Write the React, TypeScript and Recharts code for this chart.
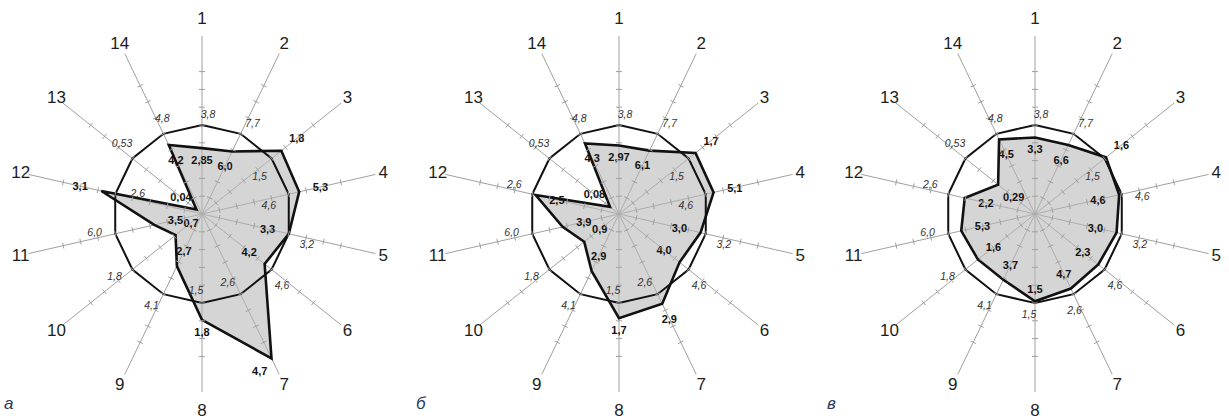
import React from 'react';
import { RadarChart, Radar, PolarGrid, PolarAngleAxis, PolarRadiusAxis } from 'recharts';

// axis numbers, clockwise from the top
const AXES = ['1', '2', '3', '4', '5', '6', '7', '8', '9', '10', '11', '12', '13', '14'];
// norm values (italic), the norm polygon is drawn at level 1
const NORMS = ['3,8', '7,7', '1,5', '4,6', '3,2', '4,6', '2,6', '1,5', '4,1', '1,8', '6,0', '2,6', '0,53', '4,8'];
// tick marks on every spoke, in units of the norm
const TICK_LEVELS = [0.2, 0.4, 0.6, 0.8, 1.0, 1.2, 1.4, 1.6];

// chart а
const VALUES_A = ['2,85', '6,0', '1,8', '5,3', '3,3', '4,2', '4,7', '1,8', '2,7', '0,7', '3,5', '3,1', '0,04', '4,2'];
const LEVELS_A = [0.74, 0.78, 1.14, 1.12, 1.0, 0.9, 1.8, 1.19, 0.65, 0.38, 0.55, 1.16, 0.08, 0.86];
// chart б
const VALUES_B = ['2,97', '6,1', '1,7', '5,1', '3,0', '4,0', '2,9', '1,7', '2,9', '0,9', '3,9', '2,5', '0,08', '4,3'];
const LEVELS_B = [0.77, 0.79, 1.1, 1.09, 0.94, 0.87, 1.12, 1.17, 0.71, 0.5, 0.65, 0.96, 0.13, 0.88];
// chart в
const VALUES_C = ['3,3', '6,6', '1,6', '4,6', '3,0', '2,3', '4,7', '1,5', '3,7', '1,6', '5,3', '2,2', '0,29', '4,5'];
const LEVELS_C = [0.86, 0.86, 1.02, 0.97, 0.94, 0.91, 0.93, 0.98, 0.82, 0.82, 0.85, 0.81, 0.53, 0.93];

const FONT = '"Liberation Sans", Arial, sans-serif';
const RAD = Math.PI / 180;
const START_ANGLE = 90;

// angle of spoke i, same convention as the chart (clockwise from the top)
const spokeAngle = (i: number) => (START_ANGLE - (i * 360) / AXES.length) * RAD;

const buildRows = (levels: number[], values: string[]) =>
  AXES.map((axis, i) => {
    const row: Record<string, number | string> = {
      axis,
      level: levels[i],
      norm: 1,
      shown: values[i],
      normText: NORMS[i],
    };
    TICK_LEVELS.forEach((t, k) => {
      row[`t${k}`] = t;
    });
    return row;
  });

const renderTickMark = (props: any) => {
  const { cx, cy, index, dataKey } = props;
  const a = spokeAngle(index);
  const px = Math.sin(a);
  const py = Math.cos(a);
  const h = 3;
  return (
    <line
      key={`${dataKey}-${index}`}
      x1={cx - px * h}
      y1={cy - py * h}
      x2={cx + px * h}
      y2={cy + py * h}
      stroke="#a0a0a0"
      strokeWidth={1}
    />
  );
};

const renderValueLabel = (props: any) => {
  const { cx, cy, payload, index } = props;
  const a = spokeAngle(index);
  const ux = Math.cos(a);
  const uy = -Math.sin(a);
  const tx = Math.sin(a);
  const ty = Math.cos(a);
  const level = payload.level as number;
  const outside = level > 1 || level < 0.3;
  let off = (outside ? 1 : -1) * (12 + Math.abs(ux) * 10);
  let side = 0;
  // near the end of a spoke: put the number beside the corner
  if (level > 1.6) {
    off = 6;
    side = 16;
  }
  return (
    <text
      key={`val-${index}`}
      x={cx + ux * off + tx * side}
      y={cy + uy * off + ty * side}
      textAnchor="middle"
      dominantBaseline="central"
      fontFamily={FONT}
      fontSize={11}
      fontWeight="bold"
      fill="#111"
    >
      {payload.shown}
    </text>
  );
};

const renderNormLabel = (props: any) => {
  const { cx, cy, payload, index } = props;
  const a = spokeAngle(index);
  const ux = Math.cos(a);
  const uy = -Math.sin(a);
  const inside = (payload.level as number) > 1;
  const off = inside ? -(13 + Math.abs(ux) * 9) : 11 + Math.abs(ux) * 9;
  const shift = 6;
  return (
    <text
      key={`norm-${index}`}
      x={cx + ux * off + Math.sin(a) * shift}
      y={cy + uy * off + Math.cos(a) * shift}
      textAnchor="middle"
      dominantBaseline="central"
      fontFamily={FONT}
      fontSize={10.5}
      fontStyle="italic"
      fill="#333"
    >
      {payload.normText}
    </text>
  );
};

const AxisNumber = (props: any) => {
  const { x, y, payload, index } = props;
  const a = spokeAngle(index);
  // top and bottom numbers sit a little further out
  const extra = 10 * Math.pow(Math.abs(Math.sin(a)), 10);
  return (
    <text
      x={x + Math.cos(a) * extra}
      y={y - Math.sin(a) * extra}
      textAnchor="middle"
      dominantBaseline="central"
      fontFamily={FONT}
      fontSize={17}
      fill="#1e1e1e"
    >
      {payload.value}
    </text>
  );
};

function RadarPanel({
  levels,
  values,
  letter,
  left,
  letterX,
}: {
  levels: number[];
  values: string[];
  letter: string;
  left: number;
  letterX: number;
}) {
  const data = buildRows(levels, values);
  return (
    <div style={{ position: 'absolute', left, top: 0, width: 416, height: 418 }}>
      <RadarChart
        width={416}
        height={418}
        cx={208}
        cy={214}
        outerRadius={178}
        startAngle={START_ANGLE}
        endAngle={START_ANGLE - 360}
        data={data}
        margin={{ top: 0, right: 0, bottom: 0, left: 0 }}
      >
        <PolarGrid gridType="polygon" polarRadius={[]} stroke="#a0a0a0" strokeWidth={1} />
        <PolarRadiusAxis domain={[0, 1.8]} type="number" tick={false} axisLine={false} />
        <PolarAngleAxis
          dataKey="axis"
          tick={<AxisNumber />}
          tickLine={false}
          axisLine={false}
          tickSize={8}
        />
        <Radar
          dataKey="level"
          stroke="#111"
          strokeWidth={2.6}
          fill="#b6b6b6"
          fillOpacity={0.58}
          dot={renderValueLabel}
          isAnimationActive={false}
        />
        {TICK_LEVELS.map((_, k) => (
          <Radar
            key={`t${k}`}
            dataKey={`t${k}`}
            stroke="none"
            fill="none"
            dot={renderTickMark}
            isAnimationActive={false}
          />
        ))}
        <Radar
          dataKey="norm"
          stroke="#111"
          strokeWidth={2}
          fill="none"
          dot={renderNormLabel}
          isAnimationActive={false}
        />
      </RadarChart>
      <span
        style={{
          position: 'absolute',
          left: letterX,
          top: 394,
          fontFamily: FONT,
          fontStyle: 'italic',
          fontSize: 17,
          color: '#2b3a5c',
        }}
      >
        {letter}
      </span>
    </div>
  );
}

export default function App() {
  return (
    <div
      style={{
        position: 'absolute',
        left: 0,
        top: 0,
        width: 1229,
        height: 418,
        background: '#fff',
        overflow: 'hidden',
      }}
    >
      <RadarPanel levels={LEVELS_A} values={VALUES_A} letter="а" left={-6} letterX={10} />
      <RadarPanel levels={LEVELS_B} values={VALUES_B} letter="б" left={411} letterX={5} />
      <RadarPanel levels={LEVELS_C} values={VALUES_C} letter="в" left={827} letterX={0} />
    </div>
  );
}
